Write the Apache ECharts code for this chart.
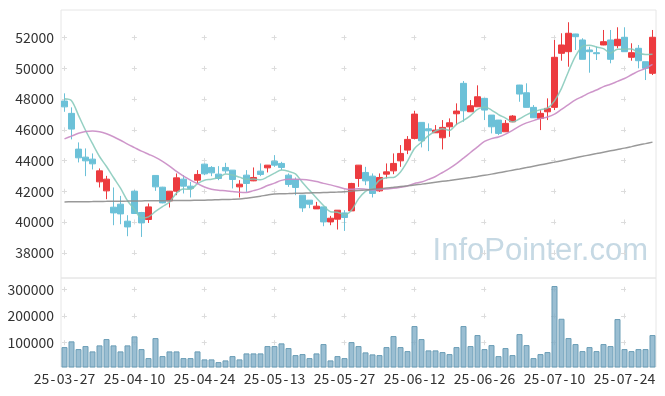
<!DOCTYPE html>
<html>
<head>
<meta charset="utf-8">
<script src="https://cdn.jsdelivr.net/npm/echarts@6/dist/echarts.min.js"></script>
<style>html,body{margin:0;padding:0;background:#fff}#c{width:665px;height:396px}</style>
</head>
<body>
<div id="c"></div>
<script>
var dates = ['25-03-27','25-03-28','25-03-31','25-04-01','25-04-02','25-04-03','25-04-04','25-04-07','25-04-08','25-04-09',
'25-04-10','25-04-11','25-04-14','25-04-15','25-04-16','25-04-17','25-04-18','25-04-21','25-04-22','25-04-23',
'25-04-24','25-04-25','25-04-28','25-04-29','25-04-30','25-05-02','25-05-07','25-05-08','25-05-09','25-05-12',
'25-05-13','25-05-14','25-05-15','25-05-16','25-05-19','25-05-20','25-05-21','25-05-22','25-05-23','25-05-26',
'25-05-27','25-05-28','25-05-29','25-05-30','25-06-02','25-06-04','25-06-05','25-06-09','25-06-10','25-06-11',
'25-06-12','25-06-13','25-06-16','25-06-17','25-06-18','25-06-19','25-06-20','25-06-23','25-06-24','25-06-25',
'25-06-26','25-06-27','25-06-30','25-07-01','25-07-02','25-07-03','25-07-04','25-07-07','25-07-08','25-07-09',
'25-07-10','25-07-11','25-07-14','25-07-15','25-07-16','25-07-17','25-07-18','25-07-21','25-07-22','25-07-23',
'25-07-24','25-07-25','25-07-28','25-07-29','25-07-30'];

var opens = [47880,47077,44752,44231,44101,42623,42037,40975,41170,40064,
42017,40630,40174,43040,42277,41386,42017,42799,42343,42733,
43775,43560,43124,43560,43385,42297,43059,42688,43320,43534,
43971,43821,43059,42779,41756,41431,40864,40995,40018,40194,
40604,40734,42844,43235,42994,42037,43124,43339,43990,44687,
45449,46491,46074,45814,45488,46204,47051,49030,47181,47507,
48054,46966,46641,45879,46530,48920,48418,47468,46751,47181,
47468,50984,51088,52241,51850,51199,51023,51525,51850,51479,
52026,50724,51310,50437,49682];
var closes = [47500,46055,44186,43990,43795,43339,42799,40604,40539,39692,
40565,39953,40995,42297,41255,42017,42883,42343,42193,43105,
43143,43209,42844,43339,42779,42473,42519,42909,43105,43710,
43710,43560,42454,42258,40930,41170,41040,40018,40259,40780,
40304,42519,43710,42688,41867,42909,43274,43821,44472,45384,
47031,45293,45944,45989,46165,46465,47227,47246,47572,48158,
47292,46204,45775,46426,46901,48334,47468,46790,47077,47403,
50724,51525,52287,52065,50593,51088,50958,51740,50593,51896,
51088,51023,50502,50007,52026];
var lows = [47180,45384,43886,42994,43430,42258,41496,39803,39868,39087,
40552,39041,39953,42037,41230,40956,41756,41867,41607,42519,
43059,42994,42733,43170,42193,41607,41971,42668,42994,43235,
43600,43385,42297,41756,40669,40910,40860,39738,39803,39523,
39432,40730,42297,42408,41607,41971,42844,43124,43600,44427,
45384,44863,44622,45800,44733,45553,46315,46530,47170,47500,
46641,45775,45664,45870,46520,47832,47460,46780,45989,46641,
47292,50502,50112,51199,50590,49721,50548,51510,50333,51310,
51080,50502,50007,49245,49571];
var highs = [48380,47468,45189,44798,44472,43496,43013,42258,41711,40454,
42082,40669,41216,43040,42300,42030,43170,43059,42623,43385,
43821,43645,43645,43860,43390,42733,43385,43560,43821,43720,
44362,43925,43170,42909,41760,41440,41320,41000,40409,40790,
40780,42558,43720,43600,43170,43170,43821,44472,45013,45599,
47246,46500,46426,46315,46641,46751,47728,49180,47943,48900,
48060,46970,46650,46641,46966,48930,49031,47617,47292,48054,
51850,52287,53003,52250,51961,51414,51414,52501,52501,52677,
52677,51635,51525,50440,52501];
var volumes = [83500,104900,76000,87300,67400,89900,113500,89900,67400,89900,
123600,76000,42300,117200,49800,67400,67400,42300,42300,67400,
37500,37500,27300,33700,49800,37500,59900,59900,59900,87300,
87300,97400,79800,53600,57300,42300,59900,94800,33700,49800,
42300,102200,87300,63700,56200,53600,83500,124700,83500,68500,
162200,113500,71200,71200,64800,57300,83500,162200,87300,128500,
76000,91000,49800,79800,53600,132200,91000,42300,57300,64800,
312000,189500,117200,94800,68500,83500,68500,94800,87300,188400,
76000,68500,76000,76000,128500];
// moving-average values before enough closes exist in the window
var ma5Lead = [48020,47900,46950,45980];
var ma20Lead = [45420,45600,45780,45900,45930,45880,45750,45560,45330,45080,
44850,44620,44420,44220,43960,43650,43300,43000,42740];
// long moving average (gray)
var ma120 = [41320,41325,41330,41335,41340,41350,41355,41360,41365,41370,
41380,41385,41390,41392,41395,41400,41405,41410,41418,41425,
41432,41445,41460,41475,41490,41510,41560,41620,41690,41770,
41835,41850,41862,41875,41888,41900,41915,41930,41945,41962,
41985,42020,42060,42095,42135,42175,42220,42265,42315,42365,
42420,42475,42535,42595,42655,42715,42780,42845,42910,42978,
43046,43125,43210,43295,43380,43463,43550,43640,43730,43818,
43906,44000,44095,44190,44282,44374,44460,44550,44640,44730,
44817,44915,45015,45110,45208];
var priceTicks = [38000,40000,42000,44000,46000,48000,50000,52000];
var volTicks = [100000,200000,300000];

function movingAvg(n, lead) {
  return closes.map(function (c, i) {
    if (i < n - 1) return lead[i];
    var s = 0;
    for (var k = i - n + 1; k <= i; k++) s += closes[k];
    return Math.round(s / n);
  });
}
var ma5 = movingAvg(5, ma5Lead);
var ma20 = movingAvg(20, ma20Lead);

var candleData = opens.map(function (o, i) { return [o, closes[i], lows[i], highs[i]]; });

var FONT = 'Noto Sans CJK KR';
var crossColor = '#dcdcdc';
function plain(v) { return String(v); }
function dateLabel(v) {
  return v.split('-').map(function (p) { return '{d|' + p + '}'; }).join('{h|-}');
}
var chart = echarts.init(document.getElementById('c'), null, {renderer: 'canvas'});
chart.setOption({
  animation: false,
  backgroundColor: '#ffffff',
  textStyle: {fontFamily: FONT},
  grid: [
    {left: 61, right: 9, top: 10, height: 268, show: true, borderColor: '#e6e6e6', borderWidth: 1, backgroundColor: 'transparent'},
    {left: 61, right: 9, top: 278, height: 89, show: true, borderColor: '#e6e6e6', borderWidth: 1, backgroundColor: 'transparent'}
  ],
  xAxis: [
    {type: 'category', gridIndex: 0, data: dates, boundaryGap: true,
     axisLine: {show: false}, axisTick: {show: false}, axisLabel: {show: false},
     splitLine: {show: true, interval: 9, alignWithLabel: true, lineStyle: {color: crossColor, width: 1, type: [5, 25.71], dashOffset: -25.2}}},
    {type: 'category', gridIndex: 1, data: dates, boundaryGap: true,
     axisLine: {show: false}, axisTick: {show: false},
     axisLabel: {interval: 9, color: '#333', fontSize: 14, fontFamily: FONT, margin: 5,
       formatter: dateLabel,
       rich: {d: {color: '#333', fontSize: 14, fontFamily: FONT}, h: {color: '#333', fontSize: 14, fontFamily: FONT, width: 7.5, align: 'center'}}},
     splitLine: {show: true, interval: 9, alignWithLabel: true, lineStyle: {color: crossColor, width: 1, type: [5, 21.7], dashOffset: -8.8}}}
  ],
  yAxis: [
    {type: 'value', gridIndex: 0, min: 36370, max: 53800, scale: true,
     axisLine: {show: false}, axisTick: {show: false, customValues: priceTicks},
     axisLabel: {customValues: priceTicks, formatter: plain, color: '#333', fontSize: 14, fontFamily: FONT, margin: 7},
     splitLine: {show: true, lineStyle: {color: crossColor, width: 1, type: [5, 64.88], dashOffset: -1}}},
    {type: 'value', gridIndex: 1, min: 9000, max: 342000,
     axisLine: {show: false}, axisTick: {show: false, customValues: volTicks},
     axisLabel: {customValues: volTicks, formatter: plain, color: '#333', fontSize: 14, fontFamily: FONT, margin: 7},
     splitLine: {show: true, lineStyle: {color: crossColor, width: 1, type: [5, 64.88], dashOffset: -1}}}
  ],
  graphic: [
    {type: 'text', right: 17, top: 236, z: 0, silent: true,
     style: {text: 'InfoPointer.com', fill: '#c6d9e4', font: '31px "Liberation Sans", Arial, sans-serif'}}
  ],
  series: [
    {type: 'candlestick', xAxisIndex: 0, yAxisIndex: 0, data: candleData, barWidth: '80%',
     itemStyle: {color: '#ec3b3f', color0: '#6cc1d8', borderColor: '#ec3b3f', borderColor0: '#6cc1d8', borderWidth: 1}},
    {type: 'line', name: 'MA5', xAxisIndex: 0, yAxisIndex: 0, data: ma5, smooth: 0.3, symbol: 'none',
     lineStyle: {color: '#82c8b9', width: 1.5, opacity: 0.85}},
    {type: 'line', name: 'MA20', xAxisIndex: 0, yAxisIndex: 0, data: ma20, smooth: 0.3, symbol: 'none',
     lineStyle: {color: '#c98bc4', width: 1.5, opacity: 0.9}},
    {type: 'line', name: 'MA120', xAxisIndex: 0, yAxisIndex: 0, data: ma120, smooth: 0.3, symbol: 'none',
     lineStyle: {color: '#8e8e8e', width: 1.5, opacity: 0.9}},
    {type: 'bar', xAxisIndex: 1, yAxisIndex: 1, data: volumes, barWidth: '86%',
     itemStyle: {color: 'rgba(125,172,197,0.78)', borderColor: '#6a9db6', borderWidth: 1}}
  ]
});
</script>
</body>
</html>
